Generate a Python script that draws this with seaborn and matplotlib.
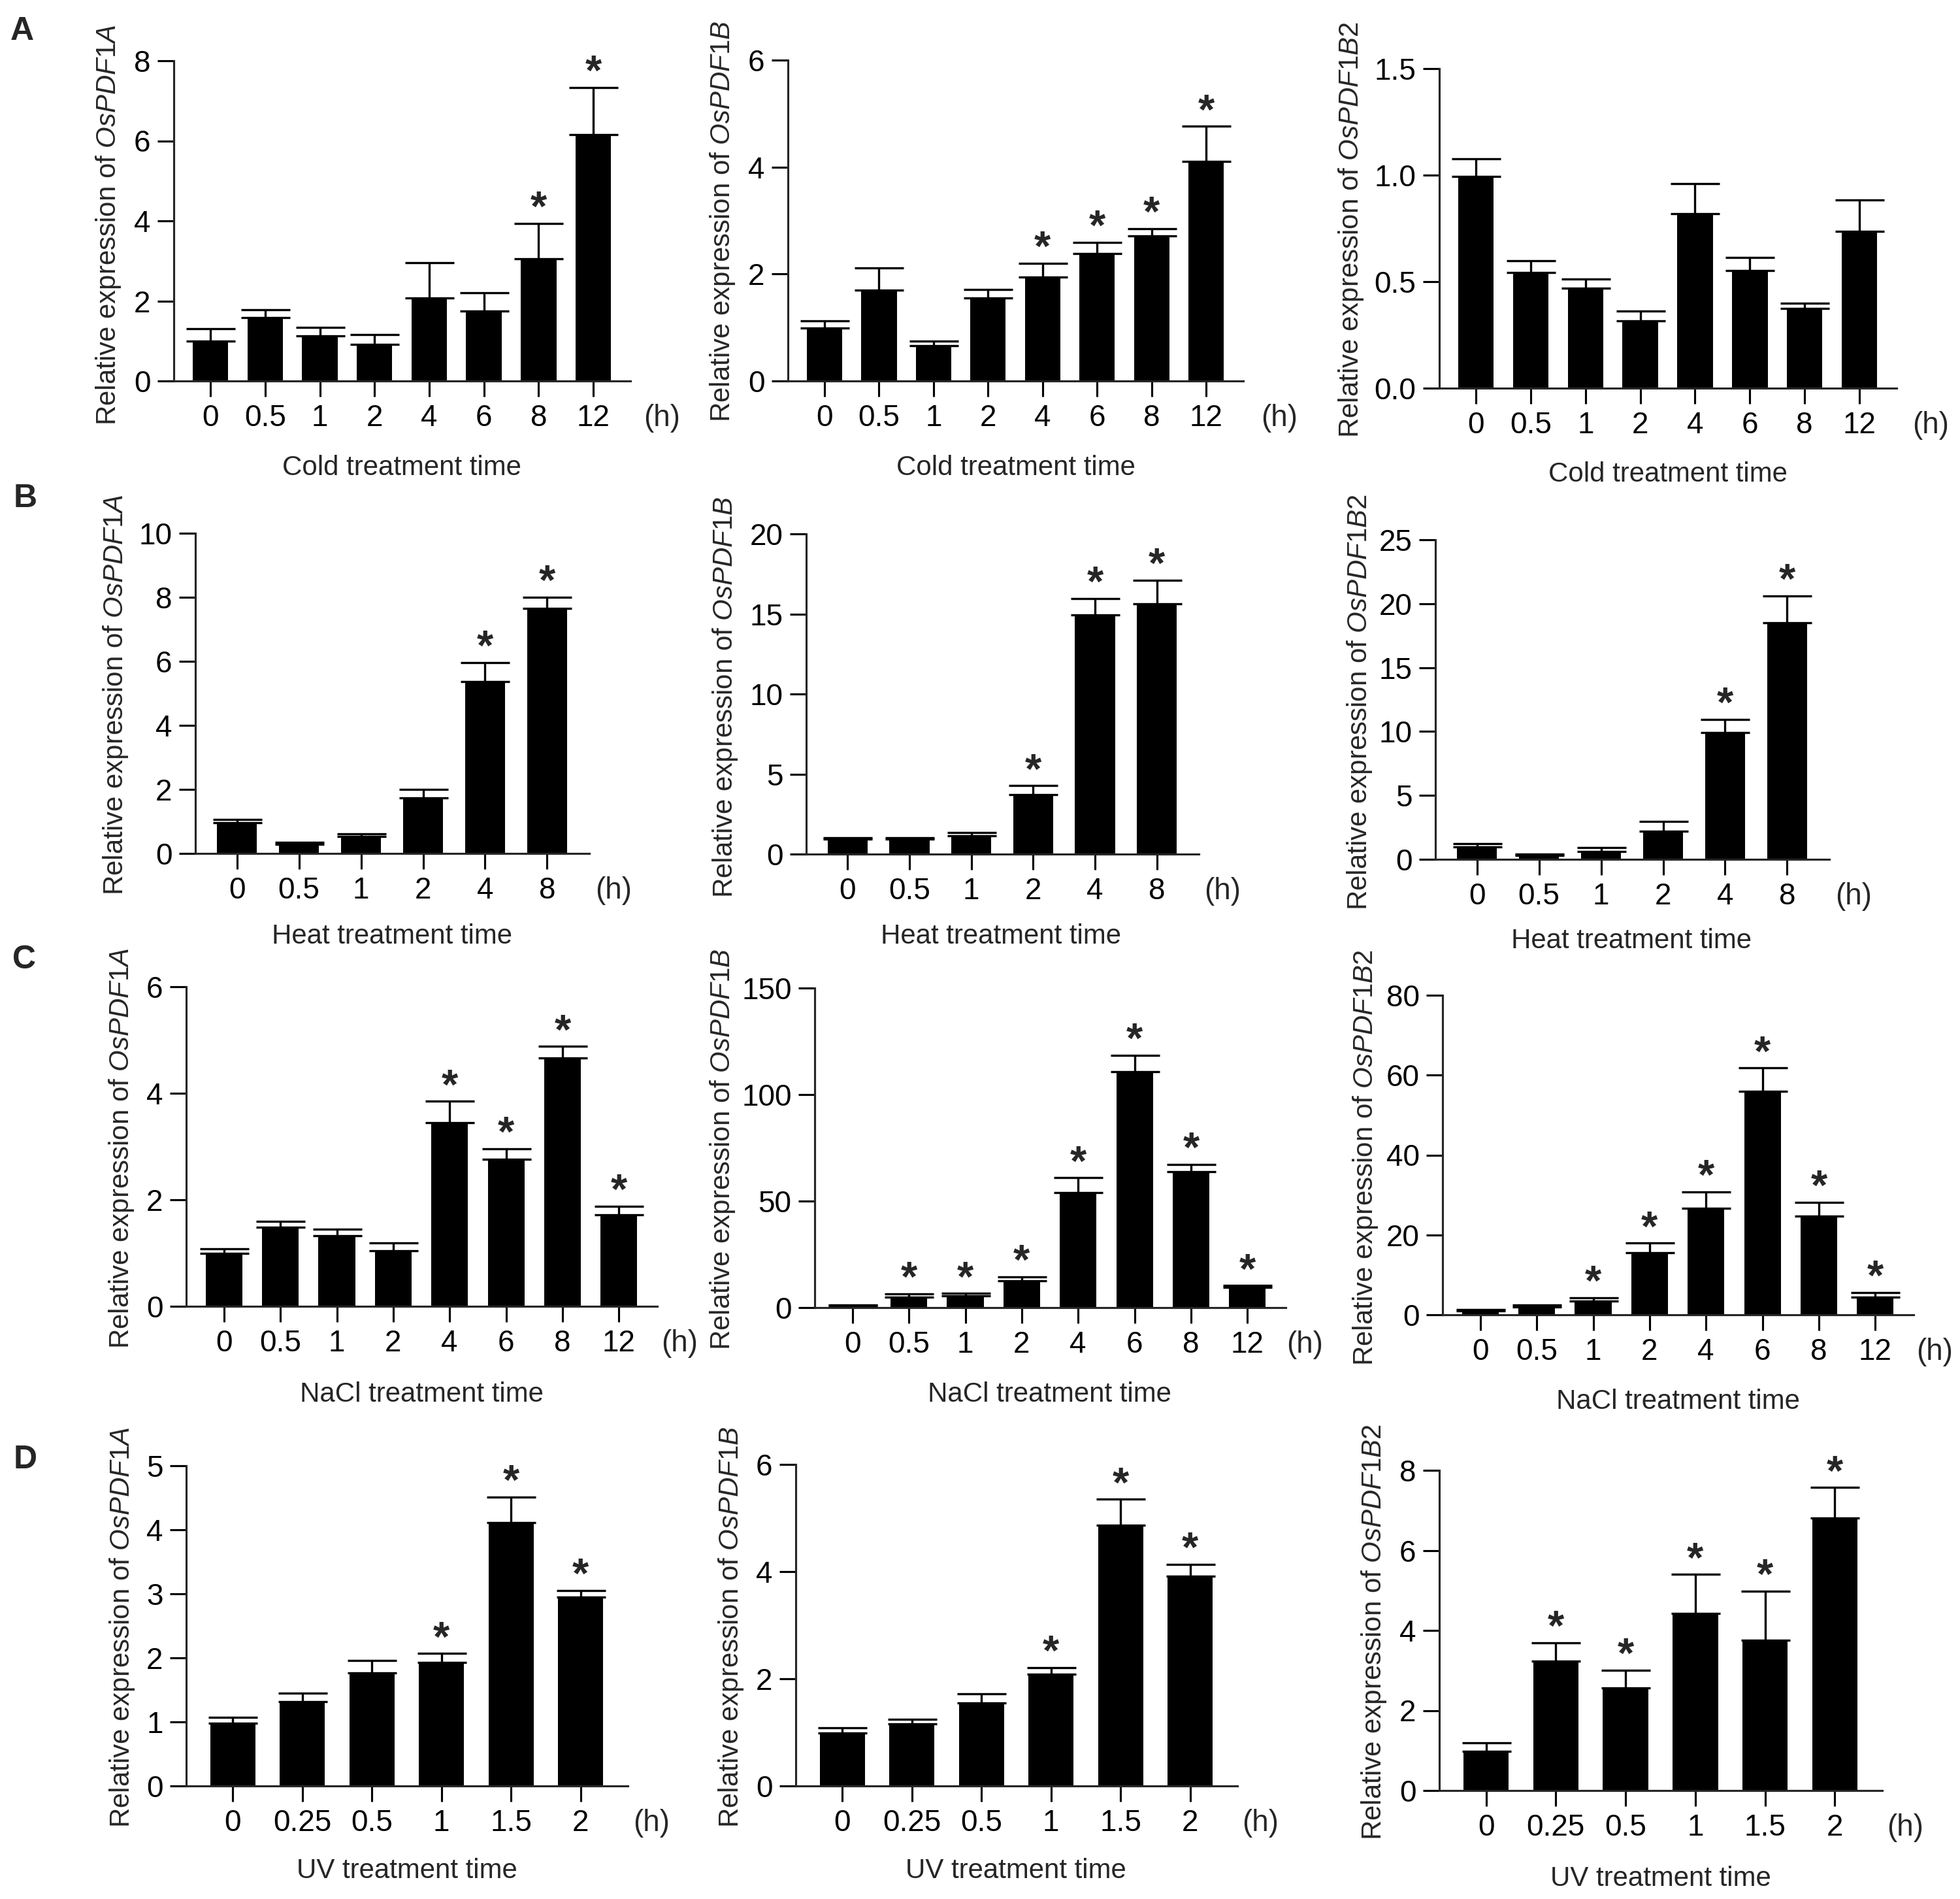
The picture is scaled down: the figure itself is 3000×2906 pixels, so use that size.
import matplotlib
matplotlib.use('Agg')
import matplotlib.pyplot as plt
import matplotlib.transforms as mtransforms
import numpy as np
import pandas as pd
import seaborn as sns

# time points (h)
cold_time = ['0', '0.5', '1', '2', '4', '6', '8', '12']
heat_time = ['0', '0.5', '1', '2', '4', '8']
nacl_time = ['0', '0.5', '1', '2', '4', '6', '8', '12']
uv_time = ['0', '0.25', '0.5', '1', '1.5', '2']

# A - cold
cold_1a = [0.99, 1.58, 1.13, 0.91, 2.07, 1.75, 3.06, 6.16]
cold_1a_err = [0.31, 0.20, 0.21, 0.25, 0.88, 0.46, 0.88, 1.17]
cold_1a_sig = [0, 0, 0, 0, 0, 0, 1, 1]
cold_1b = [0.99, 1.70, 0.66, 1.55, 1.94, 2.38, 2.71, 4.11]
cold_1b_err = [0.13, 0.41, 0.08, 0.16, 0.26, 0.21, 0.14, 0.65]
cold_1b_sig = [0, 0, 0, 0, 1, 1, 1, 1]
cold_1b2 = [0.994, 0.544, 0.468, 0.315, 0.820, 0.553, 0.373, 0.735]
cold_1b2_err = [0.082, 0.053, 0.043, 0.048, 0.141, 0.062, 0.027, 0.149]
cold_1b2_sig = [0, 0, 0, 0, 0, 0, 0, 0]

# B - heat
heat_1a = [0.96, 0.29, 0.53, 1.73, 5.36, 7.65]
heat_1a_err = [0.11, 0.05, 0.09, 0.26, 0.60, 0.35]
heat_1a_sig = [0, 0, 0, 0, 1, 1]
heat_1b = [0.95, 0.95, 1.14, 3.70, 14.92, 15.64]
heat_1b_err = [0.09, 0.09, 0.19, 0.57, 1.04, 1.46]
heat_1b_sig = [0, 0, 0, 1, 1, 1]
heat_1b2 = [0.97, 0.29, 0.59, 2.19, 9.91, 18.5]
heat_1b2_err = [0.24, 0.11, 0.34, 0.76, 1.05, 2.1]
heat_1b2_sig = [0, 0, 0, 0, 1, 1]

# C - NaCl
nacl_1a = [0.99, 1.49, 1.32, 1.04, 3.45, 2.76, 4.66, 1.72]
nacl_1a_err = [0.09, 0.11, 0.13, 0.15, 0.40, 0.20, 0.22, 0.16]
nacl_1a_sig = [0, 0, 0, 0, 1, 1, 1, 1]
nacl_1b = [1.0, 4.85, 5.42, 12.7, 54.0, 110.8, 63.9, 9.4]
nacl_1b_err = [0.3, 1.7, 1.2, 1.8, 7.0, 7.6, 3.4, 0.9]
nacl_1b_sig = [0, 1, 1, 1, 1, 1, 1, 1]
nacl_1b2 = [1.0, 1.98, 3.5, 15.5, 26.7, 55.9, 24.7, 4.4]
nacl_1b2_err = [0.25, 0.4, 0.75, 2.45, 4.1, 5.9, 3.5, 1.2]
nacl_1b2_sig = [0, 0, 1, 1, 1, 1, 1, 1]

# D - UV
uv_1a = [0.98, 1.32, 1.77, 1.93, 4.11, 2.95]
uv_1a_err = [0.09, 0.13, 0.19, 0.14, 0.40, 0.10]
uv_1a_sig = [0, 0, 0, 1, 1, 1]
uv_1b = [0.99, 1.16, 1.55, 2.08, 4.86, 3.92]
uv_1b_err = [0.09, 0.08, 0.17, 0.13, 0.49, 0.22]
uv_1b_sig = [0, 0, 0, 1, 1, 1]
uv_1b2 = [0.98, 3.24, 2.57, 4.42, 3.76, 6.81]
uv_1b2_err = [0.22, 0.45, 0.44, 0.98, 1.22, 0.76]
uv_1b2_sig = [0, 1, 1, 1, 1, 1]

sns.set_style('ticks')
plt.rcParams['font.family'] = ['Liberation Sans', 'DejaVu Sans']
plt.rcParams['mathtext.fontset'] = 'custom'
plt.rcParams['mathtext.it'] = 'Liberation Sans:italic'
plt.rcParams['mathtext.rm'] = 'Liberation Sans'
plt.rcParams['axes.linewidth'] = 0.75

FS_TICK = 11
FS_LAB = 10.1
W, H = 3000, 2906
fig = plt.figure(figsize=(W / 300, H / 300), dpi=300)


def panel(time, mean, err, sig, gene, stress, ymax, ystep,
          rect, ylab_xy, xlab_xy, h_x):
    l, r, t, b = rect
    ax = fig.add_axes([l / W, 1 - b / H, (r - l) / W, (b - t) / H])
    df = pd.DataFrame({'time': time, 'expr': mean})
    sns.barplot(data=df, x='time', y='expr', order=time, color='black',
                saturation=1, width=0.65, errorbar=None, linewidth=0, ax=ax)
    pos = np.arange(len(time))
    ax.errorbar(pos, mean, yerr=[np.zeros(len(pos)), err], fmt='none',
                ecolor='black', elinewidth=0.8, capsize=9, capthick=0.8)
    for i, s in enumerate(sig):
        if s:
            ax.annotate('*', xy=(pos[i], mean[i] + err[i]), xytext=(0, 5),
                        textcoords='offset points', ha='center', va='center',
                        fontsize=15.5, fontweight='bold')
    ax.set_xlim(-0.67, len(time) - 1 + 0.68)
    ax.set_ylim(0, ymax)
    ax.set_yticks(np.arange(0, ymax + ystep / 100, ystep))
    sns.despine(ax=ax)
    ax.tick_params(axis='both', direction='out', width=0.75,
                   labelsize=FS_TICK, colors='black', pad=2.5)
    ax.tick_params(axis='y', length=6)
    ax.tick_params(axis='x', length=5.8)

    ax.set_ylabel(f'Relative expression of $\\mathit{{{gene}}}$',
                  fontsize=FS_LAB, va='center', ha='center')
    ax.yaxis.set_label_coords(ylab_xy[0] / W, 1 - ylab_xy[1] / H,
                              transform=fig.transFigure)
    ax.set_xlabel(f'{stress} treatment time', fontsize=FS_LAB,
                  va='center', ha='center')
    ax.xaxis.set_label_coords(xlab_xy[0] / W, 1 - xlab_xy[1] / H,
                              transform=fig.transFigure)

    trans = mtransforms.blended_transform_factory(fig.transFigure, ax.transAxes)
    trans = mtransforms.offset_copy(trans, fig=fig, y=-(5.8 + 2.5),
                                    units='points')
    ax.text(h_x / W, 0, '(h)', transform=trans, ha='center', va='top',
            fontsize=FS_TICK)
    return ax


# row A
panel(cold_time, cold_1a, cold_1a_err, cold_1a_sig, 'OsPDF1A', 'Cold', 8, 2,
      (266, 965, 93, 583), (166, 344), (615, 716), 1013)
panel(cold_time, cold_1b, cold_1b_err, cold_1b_sig, 'OsPDF1B', 'Cold', 6, 2,
      (1206, 1903, 92, 583), (1106, 339), (1555, 716), 1958)
panel(cold_time, cold_1b2, cold_1b2_err, cold_1b2_sig, 'OsPDF1B2', 'Cold', 1.5, 0.5,
      (2203, 2903, 105, 594), (2068, 351), (2553, 726), 2955)

# row B
panel(heat_time, heat_1a, heat_1a_err, heat_1a_sig, 'OsPDF1A', 'Heat', 10, 2,
      (299, 902, 816, 1306), (177, 1063), (600, 1433), 939)
panel(heat_time, heat_1b, heat_1b_err, heat_1b_sig, 'OsPDF1B', 'Heat', 20, 5,
      (1234, 1835, 817, 1307), (1110, 1067), (1532, 1433), 1871)
panel(heat_time, heat_1b2, heat_1b2_err, heat_1b2_sig, 'OsPDF1B2', 'Heat', 25, 5,
      (2197, 2800, 826, 1315), (2081, 1074), (2497, 1440), 2837)

# row C
panel(nacl_time, nacl_1a, nacl_1a_err, nacl_1a_sig, 'OsPDF1A', 'NaCl', 6, 2,
      (285, 1006, 1510, 1999), (186, 1757), (645, 2134), 1040)
panel(nacl_time, nacl_1b, nacl_1b_err, nacl_1b_sig, 'OsPDF1B', 'NaCl', 150, 50,
      (1247, 1968, 1512, 2001), (1106, 1759), (1606, 2134), 1997)
panel(nacl_time, nacl_1b2, nacl_1b2_err, nacl_1b2_sig, 'OsPDF1B2', 'NaCl', 80, 20,
      (2208, 2929, 1523, 2012), (2090, 1771), (2568, 2145), 2961)

# row D
panel(uv_time, uv_1a, uv_1a_err, uv_1a_sig, 'OsPDF1A', 'UV', 5, 1,
      (285, 961, 2243, 2733), (187, 2490), (623, 2863), 997)
panel(uv_time, uv_1b, uv_1b_err, uv_1b_sig, 'OsPDF1B', 'UV', 6, 2,
      (1218, 1894, 2241, 2733), (1119, 2490), (1555, 2863), 1929)
panel(uv_time, uv_1b2, uv_1b2_err, uv_1b2_sig, 'OsPDF1B2', 'UV', 8, 2,
      (2203, 2881, 2250, 2740), (2103, 2497), (2542, 2875), 2916)

# panel letters
for letter, (px, py) in zip('ABCD', [(34, 48), (39, 763), (37, 1469), (39, 2234)]):
    fig.text(px / W, 1 - py / H, letter, ha='center', va='center',
             fontsize=12, fontweight='bold')

fig.savefig('out.png', dpi=300, facecolor='white')
